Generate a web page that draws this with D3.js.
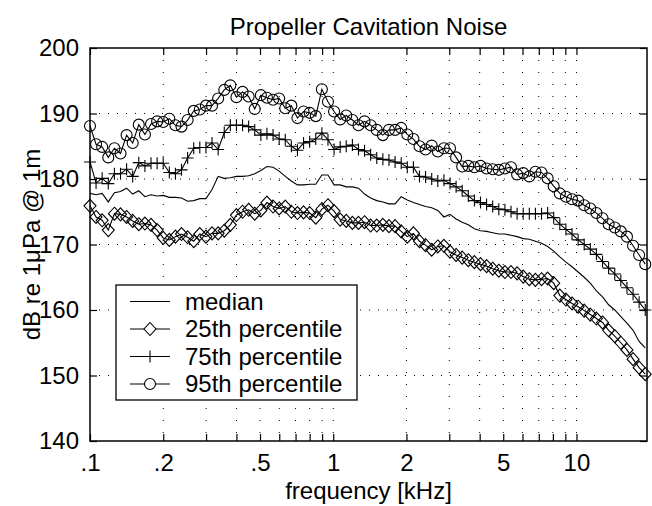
<!DOCTYPE html>
<html>
<head>
<meta charset="utf-8">
<script src="https://cdn.jsdelivr.net/npm/d3@7"></script>
<style>
body { margin: 0; background: #fff; }
text { font-family: "Liberation Sans", Arial, sans-serif; fill: #000; }
</style>
</head>
<body>
<div id="chart"></div>
<script>
// frequency in kHz (1/12 octave steps)
var freq = [
    0.1, 0.1059, 0.1122, 0.1189, 0.126, 0.1335, 0.1414, 0.1498, 0.1587, 0.1682, 0.1782, 0.1888,
    0.2, 0.2119, 0.2245, 0.2378, 0.252, 0.267, 0.2828, 0.2997, 0.3175, 0.3364, 0.3564, 0.3775,
    0.4, 0.4238, 0.449, 0.4757, 0.504, 0.5339, 0.5657, 0.5993, 0.635, 0.6727, 0.7127, 0.7551,
    0.8, 0.8476, 0.898, 0.9514, 1.008, 1.068, 1.131, 1.199, 1.27, 1.345, 1.425, 1.51,
    1.6, 1.695, 1.796, 1.903, 2.016, 2.136, 2.263, 2.397, 2.54, 2.691, 2.851, 3.02,
    3.2, 3.39, 3.592, 3.805, 4.032, 4.271, 4.525, 4.795, 5.08, 5.382, 5.702, 6.041,
    6.4, 6.781, 7.184, 7.611, 8.063, 8.543, 9.051, 9.589, 10.16, 10.76, 11.4, 12.08,
    12.8, 13.56, 14.37, 15.22, 16.13, 17.09, 18.1, 19.18
];

var median = [
    177.8, 177.6, 177.8, 176.5, 177.9, 178.1, 178.6, 177.7, 178.2, 177.3, 177.6, 177.4,
    177.5, 177.2, 177.2, 177.1, 176.6, 176.7, 177.0, 177.0, 178.4, 180.4, 180.1, 180.2,
    180.4, 180.4, 180.5, 180.8, 181.3, 181.9, 181.8, 181.2, 180.4, 179.7, 179.1, 179.1,
    179.2, 179.2, 180.6, 180.6, 179.1, 179.1, 178.8, 178.8, 178.6, 177.7, 177.1, 176.7,
    176.5, 176.2, 176.2, 177.3, 176.8, 176.4, 176.1, 175.8, 175.6, 175.2, 174.2, 174.6,
    173.9, 173.4, 173.0, 172.4, 172.1, 172.0, 171.8, 171.6, 171.6, 171.4, 171.2, 170.9,
    170.8, 170.5, 170.2, 169.7, 169.0, 168.1, 167.3, 166.6, 165.8, 165.0, 164.1, 162.9,
    162.0, 160.8, 160.0, 159.0, 158.0, 156.9, 155.2, 154.2
];

var p25 = [
    175.9, 174.2, 173.7, 172.2, 174.7, 174.6, 174.2, 173.6, 173.1, 173.2, 173.0, 172.2,
    171.0, 170.7, 171.2, 171.6, 171.1, 170.5, 171.6, 171.2, 171.7, 171.7, 172.1, 173.0,
    174.5, 175.0, 175.3, 174.7, 175.2, 176.4, 175.8, 175.5, 175.8, 175.0, 174.8, 174.9,
    174.8, 174.1, 175.4, 176.0, 175.1, 173.8, 173.6, 173.3, 173.3, 173.4, 172.9, 172.9,
    173.0, 172.8, 172.8, 172.0, 171.2, 171.7, 170.5, 169.9, 169.2, 169.7, 169.8, 168.9,
    168.4, 168.0, 167.6, 167.3, 167.0, 166.7, 166.3, 166.0, 165.8, 165.8, 165.6, 165.1,
    164.7, 164.6, 164.7, 164.8, 164.1, 162.2, 161.6, 161.0, 160.5, 159.9, 159.3, 158.7,
    158.1, 156.9, 156.0, 155.0, 153.9, 152.5, 151.2, 150.2
];

var p75 = [
    182.6, 179.4, 180.1, 179.3, 180.8, 180.8, 181.5, 180.4, 182.5, 182.0, 182.4, 182.4,
    182.4, 181.0, 180.8, 181.4, 183.2, 184.7, 184.8, 184.8, 185.5, 184.5, 187.1, 188.2,
    188.2, 188.2, 188.0, 187.5, 186.7, 186.9, 186.7, 186.1, 186.0, 185.0, 184.4, 185.5,
    185.7, 186.1, 187.0, 186.0, 184.5, 184.9, 185.0, 185.2, 184.5, 184.3, 183.7, 183.2,
    183.0, 182.9, 182.6, 182.4, 181.8, 181.8, 180.4, 180.3, 180.0, 179.7, 179.8, 179.3,
    178.8, 178.2, 177.4, 176.7, 176.4, 176.1, 175.8, 175.4, 175.3, 175.0, 174.7, 174.7,
    174.7, 174.7, 174.7, 174.8, 174.1, 173.1, 172.3, 171.6, 170.7, 170.0, 169.3, 168.5,
    167.4, 166.4, 165.5, 164.5, 163.4, 162.4, 161.2, 160.0
];

var p95 = [
    188.1, 185.3, 184.9, 183.3, 184.7, 183.9, 186.7, 185.5, 188.3, 186.8, 188.4, 188.8,
    188.7, 189.2, 188.2, 188.0, 189.0, 190.4, 190.6, 191.2, 191.2, 192.3, 193.6, 194.3,
    192.5, 193.3, 192.6, 190.7, 192.8, 192.4, 192.1, 192.3, 190.8, 191.2, 189.3, 190.3,
    190.1, 189.6, 193.7, 191.8, 190.3, 189.1, 189.7, 189.0, 188.2, 188.8, 188.2, 187.5,
    186.7, 187.5, 187.5, 187.8, 186.8, 186.1, 185.0, 184.5, 185.1, 184.2, 184.7, 184.7,
    183.3, 181.9, 182.0, 181.8, 182.0, 181.6, 181.5, 181.4, 181.6, 181.8, 180.7, 180.9,
    180.4, 181.1, 181.0, 180.1, 178.9, 177.8, 177.3, 176.9, 176.7, 176.0, 175.5, 174.8,
    174.0, 173.1, 172.6, 172.0, 171.2, 169.8, 168.4, 167.0
];

var yTicks = [140, 150, 160, 170, 180, 190, 200];
var xLabelValues = [0.1, 0.2, 0.5, 1, 2, 5, 10];
var xLabelText = [".1", ".2", ".5", "1", "2", "5", "10"];
var xMinor = [0.1, 0.2, 0.3, 0.4, 0.5, 0.6, 0.7, 0.8, 0.9, 1, 2, 3, 4, 5, 6, 7, 8, 9, 10];
var seriesNames = ["median", "25th percentile", "75th percentile", "95th percentile"];

var width = 652, height = 506;
var plotLeft = 90, plotRight = 647, plotTop = 48, plotBottom = 441;
var fontSize = 24;

var svg = d3.select("#chart").append("svg")
    .attr("width", width)
    .attr("height", height);

var x = d3.scaleLog().domain([0.1, 19.5]).range([plotLeft, plotRight]);
var y = d3.scaleLinear().domain([140, 200]).range([plotBottom, plotTop]);

// grid
var gridG = svg.append("g").attr("class", "grid");
gridG.selectAll(".vgrid")
    .data(xMinor.filter(function(d) { return d > 0.1; }))
    .enter().append("line")
    .attr("class", "vgrid")
    .attr("x1", function(d) { return x(d); })
    .attr("x2", function(d) { return x(d); })
    .attr("y1", plotTop)
    .attr("y2", plotBottom)
    .attr("stroke", "#000")
    .attr("stroke-width", 1)
    .attr("stroke-dasharray", "1,11");
gridG.selectAll(".hgrid")
    .data(yTicks.filter(function(d) { return d > 140 && d < 200; }))
    .enter().append("line")
    .attr("class", "hgrid")
    .attr("x1", plotLeft)
    .attr("x2", plotRight)
    .attr("y1", function(d) { return y(d); })
    .attr("y2", function(d) { return y(d); })
    .attr("stroke", "#000")
    .attr("stroke-width", 1)
    .attr("stroke-dasharray", "1,8");

// axes
function labelFor(d) {
    var i = xLabelValues.indexOf(d);
    return i < 0 ? "" : xLabelText[i];
}

var xAxisBottom = svg.append("g")
    .attr("transform", "translate(0," + plotBottom + ")")
    .call(d3.axisBottom(x).tickValues(xMinor).tickFormat(labelFor)
        .tickSize(-7).tickPadding(13));
var xAxisTop = svg.append("g")
    .attr("transform", "translate(0," + plotTop + ")")
    .call(d3.axisTop(x).tickValues(xMinor).tickFormat("").tickSize(-7));
var yAxisLeft = svg.append("g")
    .attr("transform", "translate(" + plotLeft + ",0)")
    .call(d3.axisLeft(y).tickValues(yTicks).tickSize(-7).tickPadding(11));
var yAxisRight = svg.append("g")
    .attr("transform", "translate(" + plotRight + ",0)")
    .call(d3.axisRight(y).tickValues(yTicks).tickFormat("").tickSize(-7));

[xAxisBottom, xAxisTop, yAxisLeft, yAxisRight].forEach(function(a) {
    a.select(".domain").remove();
    a.selectAll("line").attr("stroke", "#000").attr("stroke-width", 1.2);
    a.selectAll("text")
        .style("font-family", "'Liberation Sans', Arial, sans-serif")
        .style("font-size", fontSize + "px")
        .attr("fill", "#000");
});

svg.append("rect")
    .attr("x", plotLeft)
    .attr("y", plotTop)
    .attr("width", plotRight - plotLeft)
    .attr("height", plotBottom - plotTop)
    .attr("fill", "none")
    .attr("stroke", "#000")
    .attr("stroke-width", 1.5);

// series
var line = d3.line()
    .x(function(d) { return x(d[0]); })
    .y(function(d) { return y(d[1]); });

function pairs(values) {
    return freq.map(function(f, i) { return [f, values[i]]; });
}

var diamond = "M0,-6.5L6,0L0,6.5L-6,0Z";
var plus = "M-6,0H6M0,-6V6";

function drawSeries(name, values, marker) {
    var g = svg.append("g").attr("class", name);
    g.append("path")
        .datum(pairs(values))
        .attr("d", line)
        .attr("fill", "none")
        .attr("stroke", "#000")
        .attr("stroke-width", 1.1);
    if (marker == "circle") {
        g.selectAll("circle")
            .data(pairs(values))
            .enter().append("circle")
            .attr("cx", function(d) { return x(d[0]); })
            .attr("cy", function(d) { return y(d[1]); })
            .attr("r", 5.5)
            .attr("fill", "none")
            .attr("stroke", "#000")
            .attr("stroke-width", 1.1);
    } else if (marker) {
        g.selectAll(".mk")
            .data(pairs(values))
            .enter().append("path")
            .attr("class", "mk")
            .attr("d", marker)
            .attr("transform", function(d) { return "translate(" + x(d[0]) + "," + y(d[1]) + ")"; })
            .attr("fill", "none")
            .attr("stroke", "#000")
            .attr("stroke-width", 1.1);
    }
}

drawSeries("median", median, null);
drawSeries("p25", p25, diamond);
drawSeries("p75", p75, plus);
drawSeries("p95", p95, "circle");

// legend
var legendG = svg.append("g").attr("class", "legend");
legendG.append("rect")
    .attr("x", 116)
    .attr("y", 285)
    .attr("width", 241)
    .attr("height", 115)
    .attr("fill", "#fff")
    .attr("stroke", "#000")
    .attr("stroke-width", 1.3);

var markers = [null, diamond, plus, "circle"];
var legendRow = legendG.selectAll(".row")
    .data(seriesNames)
    .enter().append("g")
    .attr("class", "row")
    .attr("transform", function(d, i) { return "translate(0," + (301.5 + i * 27.5) + ")"; });

legendRow.append("line")
    .attr("x1", 130).attr("x2", 170)
    .attr("y1", 0).attr("y2", 0)
    .attr("stroke", "#000")
    .attr("stroke-width", 1.1);

legendRow.each(function(d, i) {
    var row = d3.select(this);
    var m = markers[i];
    if (m == "circle") {
        row.append("circle").attr("cx", 150).attr("cy", 0).attr("r", 5.5)
            .attr("fill", "#fff").attr("stroke", "#000").attr("stroke-width", 1.1);
    } else if (m) {
        row.append("path").attr("d", m).attr("transform", "translate(150,0)")
            .attr("fill", "#fff").attr("stroke", "#000").attr("stroke-width", 1.1);
    }
});

legendRow.append("text")
    .attr("x", 185)
    .attr("y", 0)
    .attr("dy", "0.35em")
    .style("font-size", fontSize + "px")
    .text(function(d) { return d; });

// titles
svg.append("text")
    .attr("x", (plotLeft + plotRight) / 2)
    .attr("y", 35)
    .attr("text-anchor", "middle")
    .style("font-size", fontSize + "px")
    .text("Propeller Cavitation Noise");

svg.append("text")
    .attr("x", (plotLeft + plotRight) / 2)
    .attr("y", 499)
    .attr("text-anchor", "middle")
    .style("font-size", fontSize + "px")
    .text("frequency [kHz]");

svg.append("text")
    .attr("transform", "translate(40," + ((plotTop + plotBottom) / 2) + ") rotate(-90)")
    .attr("text-anchor", "middle")
    .style("font-size", fontSize + "px")
    .text("dB re 1μPa @ 1m");
</script>
</body>
</html>
